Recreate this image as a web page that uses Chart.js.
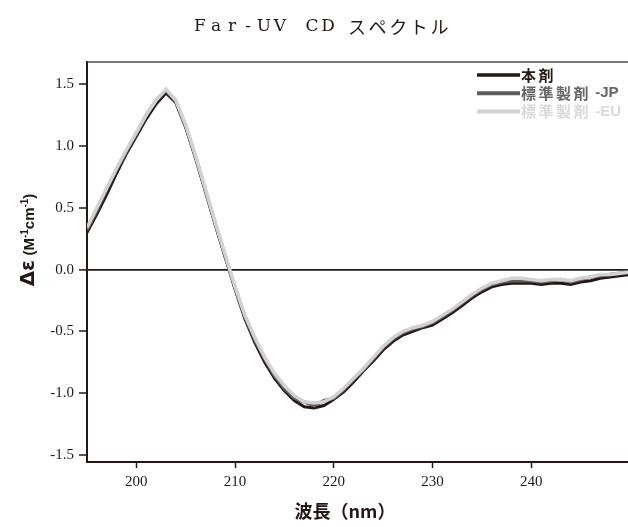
<!DOCTYPE html>
<html>
<head>
<meta charset="utf-8">
<script src="https://cdn.jsdelivr.net/npm/chart.js@4/dist/chart.umd.min.js"></script>
<style>
  html, body { margin: 0; padding: 0; background: #fff; overflow: hidden; }
  #wrap { width: 632px; height: 527px; position: relative; }
</style>
</head>
<body>
<div id="wrap"><canvas id="cdChart"></canvas></div>
<script>
// 波長 (nm)
const hachou = [195, 196, 197, 198, 199, 200, 201, 202, 203, 204, 205, 206, 207, 208, 209, 210,
  211, 212, 213, 214, 215, 216, 217, 218, 219, 220, 221, 222, 223, 224, 225, 226, 227, 228, 229, 230,
  231, 232, 233, 234, 235, 236, 237, 238, 239, 240, 241, 242, 243, 244, 245, 246, 247, 248, 249, 250];

// Δε 本剤
const honzai = [0.30, 0.45, 0.61, 0.78, 0.94, 1.08, 1.22, 1.34, 1.43, 1.35, 1.15, 0.90, 0.63, 0.36, 0.10, -0.16,
  -0.40, -0.59, -0.75, -0.88, -0.98, -1.06, -1.11, -1.12, -1.10, -1.05, -0.99, -0.91, -0.82, -0.74, -0.65, -0.58, -0.53, -0.50, -0.47, -0.45,
  -0.40, -0.35, -0.29, -0.23, -0.18, -0.14, -0.12, -0.11, -0.11, -0.11, -0.12, -0.11, -0.11, -0.12, -0.10, -0.09, -0.07, -0.06, -0.05, -0.04];

// Δε 標準製剤 -JP
const hyoujunJP = [0.32, 0.48, 0.65, 0.81, 0.96, 1.10, 1.25, 1.37, 1.45, 1.36, 1.16, 0.91, 0.64, 0.37, 0.11, -0.15,
  -0.38, -0.57, -0.72, -0.86, -0.96, -1.04, -1.07, -1.10, -1.06, -1.04, -0.97, -0.89, -0.81, -0.72, -0.63, -0.56, -0.51, -0.48, -0.46, -0.43,
  -0.38, -0.33, -0.27, -0.21, -0.16, -0.12, -0.10, -0.09, -0.09, -0.09, -0.10, -0.09, -0.08, -0.10, -0.08, -0.06, -0.05, -0.04, -0.03, -0.02];

// Δε 標準製剤 -EU
const hyoujunEU = [0.34, 0.50, 0.66, 0.82, 0.97, 1.11, 1.25, 1.37, 1.46, 1.37, 1.17, 0.92, 0.65, 0.38, 0.12, -0.14,
  -0.37, -0.55, -0.71, -0.84, -0.94, -1.02, -1.07, -1.08, -1.07, -1.03, -0.96, -0.88, -0.80, -0.71, -0.62, -0.55, -0.50, -0.47, -0.45, -0.42,
  -0.37, -0.32, -0.26, -0.20, -0.15, -0.11, -0.09, -0.07, -0.07, -0.08, -0.09, -0.08, -0.08, -0.09, -0.07, -0.06, -0.04, -0.04, -0.03, -0.02];

const xTicks = [200, 210, 220, 230, 240];
const yTicks = [-1.5, -1.0, -0.5, 0.0, 0.5, 1.0, 1.5];

const seriesNames = ["本剤", "標準製剤 -JP", "標準製剤 -EU"];
const seriesColors = ["#231815", "#5e5e5e", "#d2d2d2"];
const seriesWidths = [3, 3.5, 3.5];

function toPoints(vals) {
  return hachou.map((w, i) => ({ x: w, y: vals[i] }));
}

const allSeries = [honzai, hyoujunJP, hyoujunEU];
const datasets = allSeries.map((vals, i) => ({
  label: seriesNames[i],
  data: toPoints(vals),
  borderColor: seriesColors[i],
  borderWidth: seriesWidths[i],
  pointRadius: 0,
  tension: 0,
  fill: false,
  order: 2 - i   // EU は一番上に描く
}));

// 文字を一定ピッチで並べる (等幅っぽく)
function pitchText(c, text, x0, pitch) {
  for (let i = 0; i < text.length; i++) {
    c.fillText(text[i], x0 + i * pitch, 0);
  }
}

// タイトル・枠・凡例・軸タイトル
const frame = {
  id: "frame",
  afterDraw(chart) {
    const c = chart.ctx;
    const a = chart.chartArea;
    c.save();

    // タイトル
    c.save();
    c.translate(0, 27);
    c.fillStyle = "#231815";
    c.textAlign = "center";
    c.textBaseline = "middle";
    c.font = "17px 'DejaVu Serif', serif";
    pitchText(c, "Far-UV CD", 200, 16);
    c.font = "18px 'Noto Sans CJK JP', sans-serif";
    pitchText(c, "スペクトル", 357, 20.6);
    c.restore();

    // 上側の枠線
    c.strokeStyle = "#4a4a4a";
    c.lineWidth = 1.5;
    c.beginPath();
    c.moveTo(a.left, a.top);
    c.lineTo(a.right, a.top);
    c.stroke();

    // 凡例
    c.textBaseline = "middle";
    c.textAlign = "left";
    const textColors = ["#231815", "#666666", "#dadada"];
    const legendWidths = [3.3, 4, 4];
    for (let i = 0; i < seriesNames.length; i++) {
      const y = 75 + i * 18.3;
      c.strokeStyle = seriesColors[i];
      c.lineWidth = legendWidths[i];
      c.beginPath();
      c.moveTo(477, y);
      c.lineTo(520, y);
      c.stroke();
      c.fillStyle = textColors[i];
      c.font = "bold 15px 'Noto Sans CJK JP', sans-serif";
      c.letterSpacing = "2.5px";
      const parts = seriesNames[i].split(" ");
      c.fillText(parts[0], 521, y);
      if (parts[1]) {
        const w = c.measureText(parts[0]).width;
        c.letterSpacing = "0px";
        c.font = "bold 15px 'Liberation Sans Narrow', 'Liberation Sans', sans-serif";
        c.fillText(" " + parts[1], 521 + w, y);
      }
    }
    c.letterSpacing = "0px";

    // x 軸タイトル
    c.fillStyle = "#231815";
    c.textAlign = "center";
    c.font = "bold 18px 'Noto Sans CJK JP', sans-serif";
    c.fillText("波長（nm）", 345, 511);

    // y 軸タイトル (Δε (M-1cm-1)、上付きは手で描く)
    c.translate(27, 240);
    c.rotate(-Math.PI / 2);
    c.textAlign = "left";
    c.textBaseline = "alphabetic";
    const big = "bold 20px 'DejaVu Sans', sans-serif";
    const mid = "bold 15px 'Liberation Sans Narrow', 'Liberation Sans', sans-serif";
    const sup = "bold 10px 'Liberation Sans Narrow', 'Liberation Sans', sans-serif";
    const pieces = [
      [big, "Δε", 0], [mid, " (M", 0], [sup, "-1", -6], [mid, "cm", 0], [sup, "-1", -6], [mid, ")", 0]
    ];
    let total = 0;
    pieces.forEach(p => { c.font = p[0]; total += c.measureText(p[1]).width; });
    let x = -total / 2;
    const base = 7;
    pieces.forEach(p => {
      c.font = p[0];
      c.fillText(p[1], x, base + p[2]);
      x += c.measureText(p[1]).width;
    });
    c.restore();
  }
};

const ctx = document.getElementById("cdChart").getContext("2d");
const cdChart = new Chart(ctx, {
  type: "line",
  data: { datasets: datasets },
  options: {
    responsive: true,
    maintainAspectRatio: false,
    animation: false,
    devicePixelRatio: 1,
    layout: { padding: { top: 62, right: 2, bottom: 0, left: 0 } },
    plugins: {
      legend: { display: false },
      tooltip: { enabled: false },
      title: { display: false }
    },
    scales: {
      x: {
        type: "linear",
        min: 195,
        max: 250,
        afterBuildTicks: s => { s.ticks = xTicks.map(v => ({ value: v })); },
        afterFit: s => { s.height = 65; },
        ticks: {
          color: "#1a1a1a",
          padding: 5,
          font: { family: "'Liberation Serif', serif", size: 15 },
          callback: v => String(v)
        },
        grid: { drawOnChartArea: false, drawTicks: true, tickLength: 6, tickColor: "#231815", tickWidth: 1.5 },
        border: { display: true, color: "#231815", width: 2 }
      },
      y: {
        type: "linear",
        min: -1.557,
        max: 1.68,
        afterBuildTicks: s => { s.ticks = yTicks.map(v => ({ value: v })); },
        afterFit: s => { s.width = 87; },
        ticks: {
          color: "#1a1a1a",
          padding: 5,
          font: { family: "'Liberation Serif', serif", size: 15 },
          callback: v => Number(v).toFixed(1)
        },
        grid: {
          drawOnChartArea: true,
          drawTicks: true,
          tickLength: 8,
          tickColor: "#231815",
          tickWidth: 1.5,
          color: c => (c.tick && c.tick.value === 0 ? "#231815" : "rgba(0,0,0,0)"),
          lineWidth: c => (c.tick && c.tick.value === 0 ? 1.8 : 0)
        },
        border: { display: true, color: "#231815", width: 2 }
      }
    }
  },
  plugins: [frame]
});
</script>
</body>
</html>
